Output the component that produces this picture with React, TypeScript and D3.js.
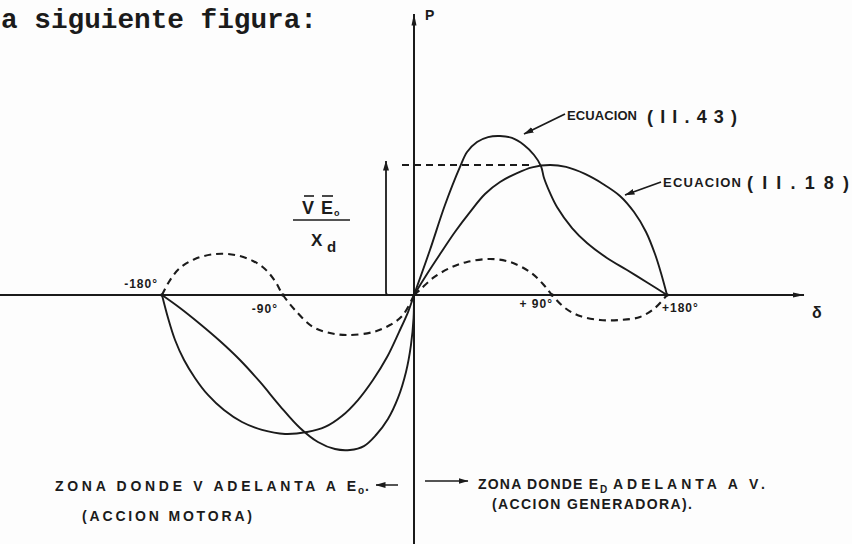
import React from "react";
import * as d3 from "d3";

// Power-angle curves P(δ) of a synchronous machine, in units of V·E0/Xd.
const DELTA_TICKS = [-180, -90, 90, 180];
const DELTA_TICK_LABELS = ["-180°", "-90°", "+ 90°", "+180°"];

// Ecuación (II.43): salient-pole curve (generator side, δ > 0)
const eq43Right: [number, number][] = [
  [0, 0], [10.4, 0.346], [20.2, 0.692], [30, 0.985], [34.6, 1.1], [41.1, 1.177],
  [48.3, 1.215], [56.1, 1.223], [63.9, 1.208], [71.7, 1.154], [78.3, 1.077],
  [82.8, 0.992], [84.8, 0.9], [88.7, 0.785], [93.9, 0.677], [105.7, 0.515],
  [117.4, 0.4], [133, 0.285], [148.7, 0.192], [165.1, 0.092], [180, 0],
];
// Ecuación (II.18): cylindrical-rotor curve (generator side)
const eq18Right: [number, number][] = [
  [0, 0], [8.5, 0.162], [17, 0.315], [26.7, 0.485], [36.5, 0.638], [46.3, 0.777],
  [56.1, 0.869], [67.2, 0.938], [77, 0.982], [88.7, 1.0], [101, 0.985],
  [115.8, 0.931], [129.9, 0.854], [143.2, 0.762], [154.2, 0.638], [163.6, 0.485],
  [170.6, 0.315], [175.3, 0.169], [180, 0],
];
// Reluctance (second-harmonic) term, generator side
const harmonicRight: [number, number][] = [
  [0, 0], [3.9, 0.04], [12.4, 0.131], [23.5, 0.208], [34.6, 0.254], [49.6, 0.277],
  [62.6, 0.254], [75.7, 0.177], [84.1, 0.085], [90, 0], [100.2, -0.1],
  [111.9, -0.162], [127.6, -0.192], [143.2, -0.192], [158.9, -0.169],
  [170.6, -0.1], [180, 0],
];
// Motor side (δ < 0)
const harmonicLeft: [number, number][] = [
  [-180, 0], [-174, 0.115], [-166.6, 0.208], [-155.5, 0.277], [-140.6, 0.315],
  [-125.7, 0.308], [-112.3, 0.262], [-103.4, 0.2], [-96, 0.108], [-90, 0],
  [-81.8, -0.115], [-69.4, -0.246], [-57.7, -0.292], [-46, -0.308],
  [-28.2, -0.285], [-16.5, -0.231], [-7.6, -0.154], [0, 0],
];
const eq18Left: [number, number][] = [
  [-180, 0], [-175.5, -0.177], [-170.3, -0.346], [-163.6, -0.5], [-155.5, -0.638],
  [-145.8, -0.769], [-133.9, -0.885], [-120.5, -0.977], [-105.6, -1.038],
  [-88.6, -1.069], [-73.5, -1.054], [-61.1, -1.015], [-49.5, -0.931],
  [-38.5, -0.808], [-28.2, -0.654], [-18.5, -0.477], [-10.3, -0.285],
  [-4.1, -0.131], [0, 0],
];
const eq43Left: [number, number][] = [
  [-180, 0], [-166.6, -0.1], [-151.7, -0.223], [-136.9, -0.354], [-122, -0.5],
  [-107.1, -0.669], [-92.2, -0.854], [-78.3, -1.023], [-66, -1.131], [-54.3, -1.185],
  [-44, -1.192], [-34.4, -1.162], [-26.1, -1.077], [-17.9, -0.954], [-11, -0.792],
  [-5.5, -0.592], [-2.1, -0.385], [-0.3, -0.177], [0, 0],
];

const INK = "#1b1b1b";
const W = 852;
const H = 544;

export default function App() {
  // hand-drawn δ axis: piecewise-linear through the marked angles
  const x = d3.scaleLinear().domain([-180, -90, 0, 90, 180]).range([162, 283, 414, 552, 667]);
  const y = d3.scaleLinear().domain([0, 1]).range([295, 165]);

  const line = d3
    .line<[number, number]>()
    .x((d) => x(d[0]))
    .y((d) => y(d[1]))
    .curve(d3.curveCatmullRom.alpha(0.5));

  const x0 = x(0);
  const y0 = y(0);
  const letter = "'Liberation Sans', Arial, sans-serif";

  const solid = { fill: "none", stroke: INK, strokeWidth: 1.9, strokeLinejoin: "round" as const };
  const dashed = { ...solid, strokeWidth: 2.1, strokeDasharray: "7 5" };

  const arrowX = 386;

  return (
    <svg
      width={W}
      height={H}
      viewBox={`0 0 ${W} ${H}`}
      style={{ position: "absolute", left: 0, top: 0, background: "#fdfdfd" }}
    >
      <defs>
        <marker id="head" viewBox="0 0 10 6" refX="9.5" refY="3" markerWidth="10" markerHeight="6" markerUnits="userSpaceOnUse" orient="auto">
          <path d="M0,0 L10,3 L0,6 Z" fill={INK} />
        </marker>
        <marker id="axisHead" viewBox="0 0 12 6" refX="11.5" refY="3" markerWidth="12" markerHeight="6" markerUnits="userSpaceOnUse" orient="auto">
          <path d="M0,0.5 L12,3 L0,5.5 Z" fill={INK} />
        </marker>
      </defs>

      {/* heading line of the page */}
      <text x={1} y={28} fontFamily="'Liberation Mono', 'Courier New', monospace" fontSize={27} fontWeight={700} fill={INK} textLength={316} lengthAdjust="spacingAndGlyphs">
        a siguiente figura:
      </text>

      {/* axes */}
      <line x1={0} y1={y0} x2={804} y2={y0} stroke={INK} strokeWidth={1.9} markerEnd="url(#axisHead)" />
      <line x1={x0} y1={H} x2={x0} y2={14} stroke={INK} strokeWidth={2} markerEnd="url(#axisHead)" />
      <text x={425} y={20} fontFamily={letter} fontSize={14} fontWeight={700} fill={INK}>P</text>
      <text x={812} y={318} fontFamily={letter} fontSize={16} fontWeight={700} fill={INK}>δ</text>

      {/* angle marks */}
      {DELTA_TICKS.map((t, i) => {
        const px = x(t);
        const place = [
          { dx: -4, dy: -7, anchor: "end" },
          { dx: -5, dy: 18, anchor: "end" },
          { dx: 1, dy: 13, anchor: "end" },
          { dx: -5, dy: 17, anchor: "start" },
        ][i];
        return (
          <g key={t}>
            <circle cx={px} cy={y0} r={1.8} fill={INK} />
            <text x={px + place.dx} y={y0 + place.dy} textAnchor={place.anchor as any} fontFamily={letter} fontSize={12} fontWeight={700} letterSpacing={1} fill={INK}>
              {DELTA_TICK_LABELS[i]}
            </text>
          </g>
        );
      })}

      {/* curves */}
      <path d={line(harmonicRight) ?? ""} {...dashed} />
      <path d={line(harmonicLeft) ?? ""} {...dashed} />
      <path d={line(eq18Right) ?? ""} {...solid} />
      <path d={line(eq43Right) ?? ""} {...solid} />
      <path d={line(eq18Left) ?? ""} {...solid} />
      <path d={line(eq43Left) ?? ""} {...solid} />

      {/* amplitude V·E0/Xd */}
      <line x1={402} y1={y(1)} x2={x(77)} y2={y(1)} {...dashed} />
      <path d={`M${arrowX + 5},${y0} L${arrowX + 2},${y0} Q${arrowX},${y0} ${arrowX},${y0 - 3} L${arrowX},${y(1) - 4}`} fill="none" stroke={INK} strokeWidth={1.8} markerEnd="url(#head)" />
      <line x1={arrowX + 6} y1={y0} x2={x0} y2={y0} stroke={INK} strokeWidth={1} />
      <g fontFamily={letter} fontWeight={700} fill={INK}>
        <text x={302} y={214} fontSize={18}>V</text>
        <line x1={304} y1={196} x2={314} y2={196} stroke={INK} strokeWidth={1.6} />
        <text x={321} y={214} fontSize={18}>E</text>
        <line x1={322} y1={196} x2={333} y2={196} stroke={INK} strokeWidth={1.6} />
        <text x={334} y={216} fontSize={9}>o</text>
        <line x1={293} y1={220} x2={350} y2={220} stroke={INK} strokeWidth={1.6} />
        <text x={311} y={246} fontSize={17}>X</text>
        <text x={327} y={252} fontSize={15}>d</text>
      </g>

      {/* curve labels */}
      <line x1={565} y1={114} x2={524} y2={134} stroke={INK} strokeWidth={1.8} markerEnd="url(#head)" />
      <text x={567} y={120} fontFamily={letter} fontSize={13} fontWeight={700} fill={INK} textLength={70} lengthAdjust="spacing">ECUACION</text>
      <text x={647} y={123} fontFamily={letter} fontSize={18} fontWeight={700} fill={INK} textLength={90} lengthAdjust="spacing">(II.43)</text>

      <line x1={661} y1={182} x2={625} y2={195} stroke={INK} strokeWidth={1.8} markerEnd="url(#head)" />
      <text x={663} y={187} fontFamily={letter} fontSize={13} fontWeight={700} fill={INK} textLength={78} lengthAdjust="spacing">ECUACION</text>
      <text x={747} y={189} fontFamily={letter} fontSize={18} fontWeight={700} fill={INK} textLength={102} lengthAdjust="spacing">(II.18)</text>

      {/* operating zones */}
      <g fontFamily={letter} fontSize={14} fontWeight={700} fill={INK}>
        <text x={55} y={491} textLength={301} lengthAdjust="spacing">ZONA DONDE V ADELANTA A E</text>
        <text x={358} y={494} fontSize={10}>o</text>
        <text x={365} y={491}>.</text>
        <line x1={398} y1={485} x2={376} y2={485} stroke={INK} strokeWidth={1.5} markerEnd="url(#head)" />
        <text x={82} y={521} textLength={170} lengthAdjust="spacing">(ACCION  MOTORA)</text>

        <line x1={425} y1={481} x2={468} y2={481} stroke={INK} strokeWidth={1.5} markerEnd="url(#head)" />
        <text x={478} y={489} textLength={120} lengthAdjust="spacing">ZONA DONDE E</text>
        <text x={600} y={493} fontSize={10}>D</text>
        <text x={613} y={489} textLength={152} lengthAdjust="spacing">ADELANTA  A  V.</text>
        <text x={492} y={509} textLength={200} lengthAdjust="spacing">(ACCION GENERADORA).</text>
      </g>
    </svg>
  );
}
